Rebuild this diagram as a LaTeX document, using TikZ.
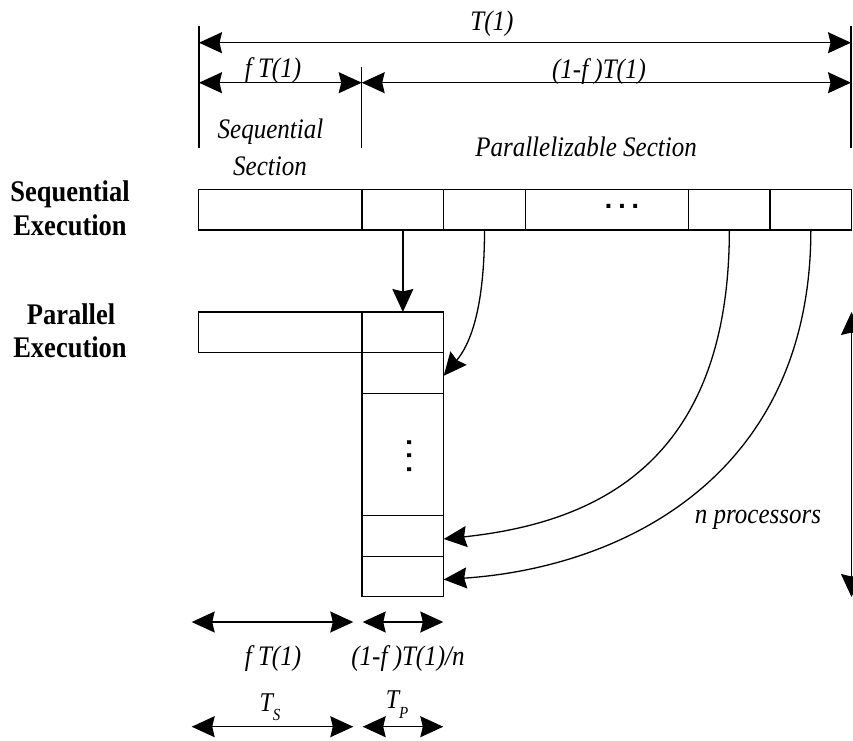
\documentclass[tikz,border=0pt]{standalone}
\usepackage{fontspec}
\setmainfont{Liberation Serif}
\newfontfamily\dotfont{DejaVu Sans}
\usetikzlibrary{arrows.meta,calc}
\newcommand{\tallbox}[1]{\scalebox{1}[1.13]{#1}}
\begin{document}
\begin{tikzpicture}[x=1pt,y=-1pt,
  cell/.style={draw, line width=1.3pt, inner sep=0pt, outer sep=0pt, rectangle},
  tipr/.style={line width=1.3pt, -{Stealth[length=23pt,width=21pt,inset=2.5pt]}},
  dim/.style={line width=1.3pt, {Stealth[length=23pt,width=21pt,inset=2.5pt]}-{Stealth[length=23pt,width=21pt,inset=2.5pt]}},
  tick/.style={line width=1.3pt},
  lab/.style={font=\fontsize{25}{28}\selectfont\itshape, anchor=base, inner sep=0pt},
  head/.style={font=\fontsize{26.5}{30}\selectfont\bfseries, anchor=base, inner sep=0pt},
  dots/.style={font=\fontsize{22}{22}\selectfont\dotfont\bfseries, inner sep=0pt},
  ]
\useasboundingbox (0,0) rectangle (853,740);

% sequential row
\node[cell, minimum width=163.3pt, minimum height=40.7pt] (s0) at (280.35,209.65) {};
\node[cell, minimum width=81.7pt, minimum height=40.7pt] (s1) at (402.85,209.65) {};
\node[cell, minimum width=81.6pt, minimum height=40.7pt] (s2) at (484.5,209.65) {};
\node[cell, minimum width=163.4pt, minimum height=40.7pt] (s3) at (607,209.65) {};
\node[cell, minimum width=81.3pt, minimum height=40.7pt] (s4) at (729.35,209.65) {};
\node[cell, minimum width=81.7pt, minimum height=40.7pt] (s5) at (810.85,209.65) {};
\node[dots] (hd) at (622,206) {.\hspace{5pt}.\hspace{5pt}.};

% parallel row
\node[cell, minimum width=163.3pt, minimum height=40.3pt] (p0) at (280.35,332.15) {};
\node[cell, minimum width=81.7pt, minimum height=40.3pt] (c1) at (402.85,332.15) {};
\node[cell, minimum width=81.7pt, minimum height=41pt] (c2) at (402.85,372.8) {};
\node[cell, minimum width=81.7pt, minimum height=122.4pt] (c3) at (402.85,454.5) {};
\node[cell, minimum width=81.7pt, minimum height=40.6pt] (c4) at (402.85,536) {};
\node[cell, minimum width=81.7pt, minimum height=40.4pt] (c5) at (402.85,576.5) {};
\node[dots, rotate=-90] (vd) at (410,456) {.\hspace{5pt}.\hspace{5pt}.};

% row headings
\node[head] (h1) at (70,201.7) {\tallbox{Sequential}};
\node[head] (h2) at (70,235) {\tallbox{Execution}};
\node[head] (h3) at (71,324) {\tallbox{Parallel}};
\node[head] (h4) at (70,357) {\tallbox{Execution}};

% mapping arrows
\draw[tipr] (s1.south) -- (c1.north);
\draw[tipr] (s2.south) .. controls +(0,80) and +(26,-31) .. ([yshift=-3pt]c2.east);
\draw[tipr] (s4.south) .. controls +(0,235) and +(150,-16) .. ([yshift=-3pt]c4.east);
\draw[tipr] (s5.south) .. controls +(0,245) and +(180,-12) .. ([yshift=-3pt]c5.east);

% top dimensions
\coordinate (lt) at (199,26);  \coordinate (lb) at (199,148);
\coordinate (mt) at (361.7,66.7); \coordinate (mb) at (361.7,148);
\coordinate (rt) at (851,26);  \coordinate (rb) at (851,148);
\draw[tick] (lt) -- (lb);
\draw[tick] (mt) -- (mb);
\draw[tick] (rt) -- (rb);
\coordinate (a1) at (199,42.7); \coordinate (a2) at (851,42.7);
\coordinate (b1) at (199,82.7); \coordinate (bm) at (361.7,82.7); \coordinate (b2) at (851,82.7);
\draw[dim] (a1) -- (a2);
\draw[dim] (b1) -- (bm);
\draw[dim] (bm) -- (b2);
\node[lab] (tt) at (492,30) {\tallbox{T(1)}};
\node[lab] (tf) at (273,77.5) {\tallbox{f T(1)}};
\node[lab] (tp) at (599,78) {\tallbox{(1-f )T(1)}};
\node[lab] (ss1) at (270.5,138) {\tallbox{Sequential}};
\node[lab] (ss2) at (270,175) {\tallbox{Section}};
\node[lab] (ps) at (586,156.7) {\tallbox{Parallelizable Section}};

% n processors
\coordinate (r1) at (851.5,312); \coordinate (r2) at (851.5,597);
\draw[dim] (r1) -- (r2);
\node[lab] (np) at (758,523) {\tallbox{n processors}};

% bottom dimensions
\coordinate (d1) at (191.7,622); \coordinate (d2) at (353.3,622);
\coordinate (d3) at (362.7,622); \coordinate (d4) at (443.3,622);
\coordinate (e1) at (191.7,726.7); \coordinate (e2) at (353.3,726.7);
\coordinate (e3) at (362.7,726.7); \coordinate (e4) at (443.3,726.7);
\draw[dim] (d1) -- (d2);
\draw[dim] (d3) -- (d4);
\draw[dim] (e1) -- (e2);
\draw[dim] (e3) -- (e4);
\node[lab] (bf) at (273,665) {\tallbox{f T(1)}};
\node[lab] (bp) at (408,665) {\tallbox{(1-f )T(1)/n}};
\node[lab, font=\fontsize{24}{26}\selectfont\itshape] (ts) at (270,711.7) {\tallbox{T\raisebox{-8pt}{\fontsize{15}{15}\selectfont S}}};
\node[lab, font=\fontsize{24}{26}\selectfont\itshape] (tpp) at (397,708) {\tallbox{T\raisebox{-9pt}{\fontsize{15}{15}\selectfont P}}};
\end{tikzpicture}
\end{document}
